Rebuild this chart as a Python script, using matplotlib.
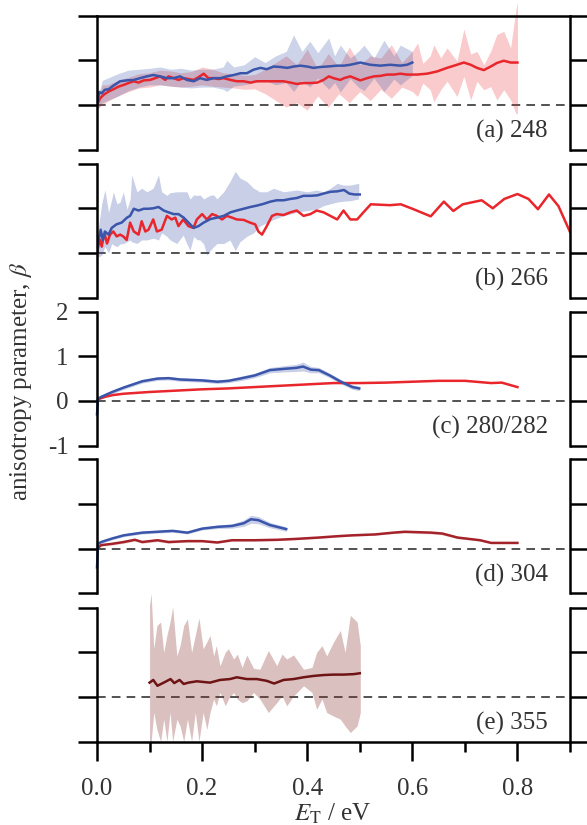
import matplotlib
matplotlib.use('Agg')
import matplotlib.pyplot as plt
import numpy as np
from matplotlib import font_manager
from matplotlib.ticker import MultipleLocator, FormatStrFormatter
import matplotlib.transforms as mtransforms

# ---- data ----
# (a) 248
a_blue_x = [0, .0045, .009, .015, .022, .031, .044, .057, .07, .082,
            .095, .107, .12, .133, .146, .158, .171, .184, .196, .209,
            .222, .235, .247, .26, .273, .285, .298, .311, .323, .336,
            .349, .362, .374, .387, .40, .412, .425, .438, .457, .47,
            .482, .501, .52, .539, .558, .577, .59, .60]
a_blue_y = [0, .29, .26, .34, .35, .43, .53, .55, .56, .60,
            .64, .67, .64, .60, .60, .64, .56, .53, .60, .56,
            .60, .60, .64, .67, .71, .71, .79, .83, .80, .86,
            .85, .83, .86, .88, .86, .83, .85, .86, .88, .88,
            .90, .95, .90, .88, .90, .88, .90, .95]
a_blue_band_x = [0, .01, .02, .04, .06, .08, .10, .12, .14, .16,
                 .18, .20, .22, .24, .247, .26, .28, .30, .32, .34,
                 .36, .374, .39, .405, .42, .441, .452, .463, .482, .497,
                 .508, .527, .546, .565, .577, .6]
a_blue_hi = [.1, .55, .6, .7, .78, .8, .82, .85, .8, .82,
             .78, .8, .8, .85, 1.0, .85, .9, 1.08, .95, 1.1,
             1.2, 1.57, 1.2, 1.43, 1.17, 1.5, 1.1, 1.34, 1.05, 1.2,
             1.34, 1.05, 1.45, 1.1, 1.34, 1.2]
a_blue_lo = [-.1, .05, .1, .2, .32, .4, .45, .45, .42, .4,
             .38, .4, .4, .35, .3, .42, .45, .5, .55, .45,
             .5, .3, .55, .4, .6, .35, .5, .29, .59, .4,
             .32, .6, .3, .58, .45, .66]

a_red_x = [0, .006, .013, .022, .031, .041, .051, .06, .07, .079,
           .089, .101, .111, .12, .13, .136, .146, .155, .165, .174,
           .184, .193, .203, .212, .222, .231, .241, .254, .266, .279,
           .292, .304, .317, .33, .342, .355, .368, .38, .393, .406,
           .419, .431, .441, .45, .463, .47, .482, .501, .514, .527,
           .539, .552, .565, .577, .59, .609, .628, .647, .666, .685,
           .698, .711, .723, .736, .749, .761, .774, .787, .8]
a_red_y = [0, .15, .23, .30, .35, .41, .45, .49, .53, .50,
           .55, .56, .60, .64, .56, .64, .60, .56, .60, .58,
           .56, .62, .70, .60, .60, .58, .60, .56, .53, .53,
           .50, .53, .53, .53, .53, .53, .50, .47, .49, .49,
           .50, .56, .64, .60, .56, .60, .64, .55, .60, .64,
           .65, .68, .68, .70, .68, .68, .70, .75, .83, .90,
           .95, .90, .83, .78, .86, .94, .99, .95, .95]
a_red_band_x = [0, .01, .02, .04, .06, .08, .10, .12, .14, .16,
                .18, .20, .22, .24, .26, .28, .30, .32, .34, .36,
                .38, .40, .42, .44, .46, .48, .50, .52, .54, .56,
                .58, .60, .61, .62, .634, .641, .654, .666, .685, .698,
                .711, .723, .736, .749, .761, .774, .787, .797, .8]
a_red_hi = [.05, .45, .45, .55, .62, .70, .72, .78, .76, .72,
            .75, .85, .80, .72, .70, .66, .68, .80, .95, 1.10,
            .90, 1.25, .80, 1.15, .85, 1.30, .90, 1.10, 1.05, 1.35,
            .95, 1.20, 1.39, .93, 1.1, 1.35, 1.05, 1.28, .98, 1.70,
            1.14, 1.20, .90, 1.20, 1.58, 1.65, 1.28, 2.13, 2.3]
a_red_lo = [-.1, .0, .08, .20, .30, .38, .40, .45, .42, .40,
            .42, .45, .42, .40, .38, .35, .36, .25, .10, -.05,
            .05, -.12, .20, -.05, .25, .05, .30, .10, .35, .15,
            .40, .30, .19, .49, .34, .07, .34, .53, .19, .64,
            .11, .53, .34, .41, .11, .34, .11, -.19, -.2]

# (b) 266
b_blue_x = [0, .0045, .007, .011, .015, .022, .028, .037, .047, .057,
            .063, .07, .079, .089, .098, .107, .117, .127, .136, .146,
            .155, .165, .174, .184, .193, .203, .216, .228, .241, .254,
            .266, .279, .292, .304, .317, .33, .342, .355, .368, .38,
            .393, .406, .419, .431, .444, .457, .47, .48, .49, .5]
b_blue_y = [0, .37, .52, .29, .48, .41, .56, .64, .68, .79,
            .83, .99, .95, .99, .99, 1.0, 1.03, .95, .91, .87,
            .87, .79, .68, .56, .60, .68, .76, .79, .83, .91,
            .95, .99, 1.03, 1.06, 1.10, 1.15, 1.18, 1.18, 1.21, 1.23,
            1.28, 1.28, 1.29, 1.33, 1.37, 1.38, 1.41, 1.33, 1.31, 1.31]
b_blue_band_x = [0, .003, .009, .015, .022, .028, .031, .038, .044, .05,
                 .057, .063, .066, .076, .085, .095, .107, .117, .123, .133,
                 .139, .152, .164, .171, .177, .184, .19, .196, .203, .209,
                 .215, .222, .228, .241, .253, .263, .272, .285, .298, .31,
                 .323, .336, .355, .38, .4, .418, .431, .444, .457, .469,
                 .482, .498]
b_blue_hi = [.05, .60, 1.1, 1.41, .91, 1.2, 1.37, 1.1, 1.14, 1.37,
             .98, 1.2, 1.75, 1.37, 1.45, 1.37, 1.45, 1.75, 1.37, 1.29,
             1.35, 1.37, 1.37, 1.37, 1.21, 1.3, 1.29, 1.3, 1.21, 1.25,
             1.29, 1.3, 1.21, 1.37, 1.6, 1.83, 1.68, 1.6, 1.45, 1.37,
             1.37, 1.45, 1.37, 1.41, 1.37, 1.41, 1.37, 1.45, 1.56, 1.52,
             1.52, 1.56]
b_blue_lo = [-.05, -.09, -.05, .14, .0, .21, .18, .14, .2, .21,
             .25, .29, .25, .21, .29, .29, .33, .29, .45, .37,
             .29, .21, .4, .2, .06, .37, .3, .29, .2, -.05,
             .05, .14, .21, .21, .29, .05, .25, .37, .45, .6,
             .68, .75, .83, .91, .95, .98, 1.06, 1.1, 1.14, 1.16,
             1.17, 1.21]

b_red_x = [0, .0025, .006, .009, .0127, .015, .019, .0248, .031, .0375,
           .044, .05, .0565, .063, .07, .079, .085, .092, .098, .107,
           .114, .123, .133, .142, .149, .155, .164, .174, .1835, .19,
           .2, .209, .219, .228, .238, .247, .257, .266, .279, .291,
           .301, .307, .314, .323, .333, .342, .355, .368, .38, .393,
           .406, .418, .431, .444, .457, .469, .482, .495, .507, .521,
           .557, .578, .6, .635, .66, .678, .696, .732, .753, .775,
           .8, .821, .839, .86, .878, .9]
b_red_y = [-.05, .17, .29, .14, .37, .41, .21, .41, .48, .37,
           .41, .37, .29, .68, .48, .41, .71, .48, .52, .75,
           .48, .52, .83, .75, .79, .60, .75, .60, .56, .75,
           .87, .75, .87, .83, .75, .83, .79, .75, .74, .68,
           .64, .48, .41, .60, .83, .87, .85, .91, .95, .83,
           .87, .95, .91, .83, .75, .95, .75, .75, .91, 1.09,
           1.07, 1.09, .99, .82, 1.15, .94, 1.09, 1.18, 1.0, 1.21,
           1.32, 1.21, .98, 1.31, 1.05, .47]

# (c) 280/282
c_blue_x = [0, .002, .008, .029, .051, .086, .115, .136, .158, .2,
            .229, .25, .272, .3, .329, .357, .379, .392, .407, .422,
            .443, .464, .486, .499]
c_blue_y = [-.3, .05, .09, .2, .3, .44, .5, .51, .48, .46,
            .43, .45, .5, .57, .69, .72, .74, .77, .70, .69,
            .57, .43, .31, .28]
c_blue_err = [0, .04, .04, .04, .04, .04, .04, .04, .04, .04,
              .04, .04, .05, .05, .06, .07, .08, .1, .07, .06,
              .05, .05, .05, .05]
c_red_x = [0, .005, .015, .03, .05, .1, .15, .2, .25, .3,
           .35, .4, .45, .5, .55, .6, .65, .7, .73, .75,
           .77, .8]
c_red_y = [0, .05, .09, .13, .16, .2, .23, .26, .28, .31,
           .34, .37, .40, .40, .41, .43, .45, .45, .42, .40,
           .41, .31]

# (d) 304
d_blue_x = [0, .002, .008, .029, .051, .086, .115, .144, .172, .2,
            .229, .257, .279, .293, .307, .329, .36]
d_blue_y = [-.42, .11, .15, .23, .30, .36, .38, .40, .36, .45,
            .49, .51, .57, .66, .64, .53, .44]
d_blue_err = [0, .03, .03, .03, .03, .03, .03, .03, .03, .03,
              .04, .05, .07, .09, .08, .06, .05]
d_red_x = [0, .008, .029, .051, .072, .086, .115, .136, .172, .2,
           .229, .257, .3, .343, .379, .422, .457, .486, .529, .564,
           .586, .636, .657, .686, .729, .75, .771, .8]
d_red_y = [0, .08, .11, .15, .2, .15, .19, .15, .17, .17,
           .14, .19, .19, .2, .22, .25, .28, .3, .32, .36,
           .38, .36, .34, .25, .19, .13, .13, .13]
d_red_err = [0, .02, .03, .03, .03, .03, .03, .03, .02, .02,
             .02, .02, .02, .02, .02, .02, .02, .02, .02, .02,
             .03, .03, .03, .03, .02, .02, .02, .02]

# (e) 355
e_x = [.1, .107, .115, .127, .14, .147, .157, .165, .174, .19,
       .215, .234, .253, .266, .285, .304, .323, .337, .355, .374,
       .393, .412, .431, .45, .469, .488, .5]
e_y = [.32, .38, .25, .32, .40, .31, .38, .29, .32, .35,
       .32, .38, .40, .44, .40, .40, .36, .30, .38, .40,
       .44, .47, .49, .50, .50, .51, .53]
e_band_x = [.1, .103, .108, .114, .121, .127, .133, .139, .144, .152,
            .158, .165, .172, .18, .187, .194, .202, .209, .215, .222,
            .227, .234, .244, .25, .26, .267, .276, .285, .298, .31,
            .326, .342, .352, .361, .374, .393, .409, .418, .428, .437,
            .45, .463, .472, .482, .495, .501]
e_hi = [2.05, 2.32, 1.08, 1.6, 1.68, 1.0, 1.38, 1.68, 2.02, .92,
        1.15, 1.6, 1.75, 1.0, 1.38, 1.77, 1.08, 1.23, 1.38, .92,
        1.15, .7, 1.0, 1.08, .85, .96, .66, .94, .64, .62,
        1.04, .7, .96, .85, .94, .62, .66, 1.0, 1.15, .92,
        1.23, 1.49, 1.0, 1.83, 1.68, 1.15]
e_lo = [-1, -1, -.35, -.73, -1, -.5, -1, -.35, -1, -.5,
        -.65, -1, -.5, -1, -.35, -1, -.35, -.73, -.35, -.05,
        -.2, .1, -.2, -.05, .1, -.05, -.13, -.09, .1, -.05,
        -.35, -.13, .02, -.2, .02, .25, .1, -.28, -.05, -.35,
        -.43, -.5, -.65, -.8, -.65, -.35]

panel_labels = ['(a) 248', '(b) 266', '(c) 280/282', '(d) 304', '(e) 355']
y_ticks = [-1, 0, 1, 2]

# ---- style ----
# find a Times-like face among what is installed
serif_name = 'DejaVu Serif'
for f in font_manager.fontManager.ttflist:
    if f.name.lower().startswith('liberation serif'):
        serif_name = f.name
        break
plt.rcParams['font.family'] = [serif_name, 'DejaVu Serif']
plt.rcParams['mathtext.fontset'] = 'stix'

BLUE = '#3a55aa'
RED = '#e8262c'
DRED = '#a4232a'
MAROON = '#6e1414'
TXT = '#333333'
LW = 1.8
FS = 18

W, H = 587, 825
left_px, right_px = 97, 570
tops = [15.7, 163.7, 311.7, 459.5, 607.7]
panel_h = 133.8

fig = plt.figure(figsize=(W / 100, H / 100), dpi=100)
axes = []
for i, top in enumerate(tops):
    ax = fig.add_axes([left_px / W, 1 - (top + panel_h) / H,
                       (right_px - left_px) / W, panel_h / H])
    ax.set_xlim(0, 0.9)
    ax.set_ylim(-1, 2)
    for s in ['left', 'right', 'top', 'bottom']:
        ax.spines[s].set_linewidth(1.8)
    ax.spines['top'].set_visible(i == 0)
    ax.spines['bottom'].set_visible(i == 4)
    ax.set_yticks(y_ticks)
    ax.yaxis.set_major_formatter(FormatStrFormatter('%d'))
    ax.tick_params(axis='y', direction='out', length=13.5, width=1.8,
                   left=True, right=True, labelleft=(i == 2),
                   labelsize=FS, pad=7, labelcolor=TXT)
    ax.xaxis.set_major_locator(MultipleLocator(0.2))
    ax.xaxis.set_minor_locator(MultipleLocator(0.1))
    if i == 4:
        ax.xaxis.set_major_formatter(FormatStrFormatter('%.1f'))
        ax.tick_params(axis='x', which='major', direction='out', length=13.5,
                       width=1.8, top=False, labelsize=FS, pad=13, labelcolor=TXT)
        ax.tick_params(axis='x', which='minor', direction='out', length=7,
                       width=1.8, top=False)
    else:
        ax.tick_params(axis='x', which='both', bottom=False, top=False,
                       labelbottom=False)
    ax.axhline(0, color='#444444', lw=1.3, dashes=(4.8, 3.4), zorder=1)
    trans = mtransforms.blended_transform_factory(ax.transAxes, ax.transData)
    ax.text(0.953, -0.6, panel_labels[i], transform=trans, ha='right',
            va='center', fontsize=FS, color=TXT)
    axes.append(ax)

ax_a, ax_b, ax_c, ax_d, ax_e = axes

# (a)
ax_a.fill_between(a_red_band_x, a_red_lo, a_red_hi, color=RED, alpha=0.24, lw=0, clip_on=False)
ax_a.fill_between(a_blue_band_x, a_blue_lo, a_blue_hi, color=BLUE, alpha=0.25, lw=0, clip_on=False)
ax_a.plot(a_red_x, a_red_y, color=RED, lw=LW)
ax_a.plot(a_blue_x, a_blue_y, color=BLUE, lw=LW)

# (b)
ax_b.fill_between(b_blue_band_x, b_blue_lo, b_blue_hi, color=BLUE, alpha=0.28, lw=0)
ax_b.plot(b_red_x, b_red_y, color=RED, lw=LW)
ax_b.plot(b_blue_x, b_blue_y, color=BLUE, lw=LW)

# (c)
cbx, cby, cbe = np.array(c_blue_x), np.array(c_blue_y), np.array(c_blue_err)
ax_c.fill_between(cbx, cby - cbe, cby + cbe, color=BLUE, alpha=0.28, lw=0)
ax_c.plot(c_red_x, c_red_y, color=RED, lw=LW)
ax_c.plot(c_blue_x, c_blue_y, color=BLUE, lw=LW, clip_on=False)

# (d)
dbx, dby, dbe = np.array(d_blue_x), np.array(d_blue_y), np.array(d_blue_err)
drx, dry, dre = np.array(d_red_x), np.array(d_red_y), np.array(d_red_err)
ax_d.fill_between(dbx, dby - dbe, dby + dbe, color=BLUE, alpha=0.28, lw=0)
ax_d.fill_between(drx, dry - dre, dry + dre, color=DRED, alpha=0.2, lw=0)
ax_d.plot(d_red_x, d_red_y, color=DRED, lw=LW)
ax_d.plot(d_blue_x, d_blue_y, color=BLUE, lw=LW, clip_on=False)

# (e)
ax_e.fill_between(e_band_x, e_lo, e_hi, color='#8a3030', alpha=0.3, lw=0, clip_on=False)
ax_e.plot(e_x, e_y, color=MAROON, lw=LW)

fig.text(21.5 / W, 1 - 381 / H, 'anisotropy parameter, $\\beta$', rotation=90,
         ha='center', va='center', fontsize=FS, color=TXT)
fig.text(333 / W, 1 - 821 / H, '$E_\\mathrm{T}$ / eV', ha='center', va='baseline',
         fontsize=FS, color=TXT)

fig.savefig('out.png', dpi=100)
